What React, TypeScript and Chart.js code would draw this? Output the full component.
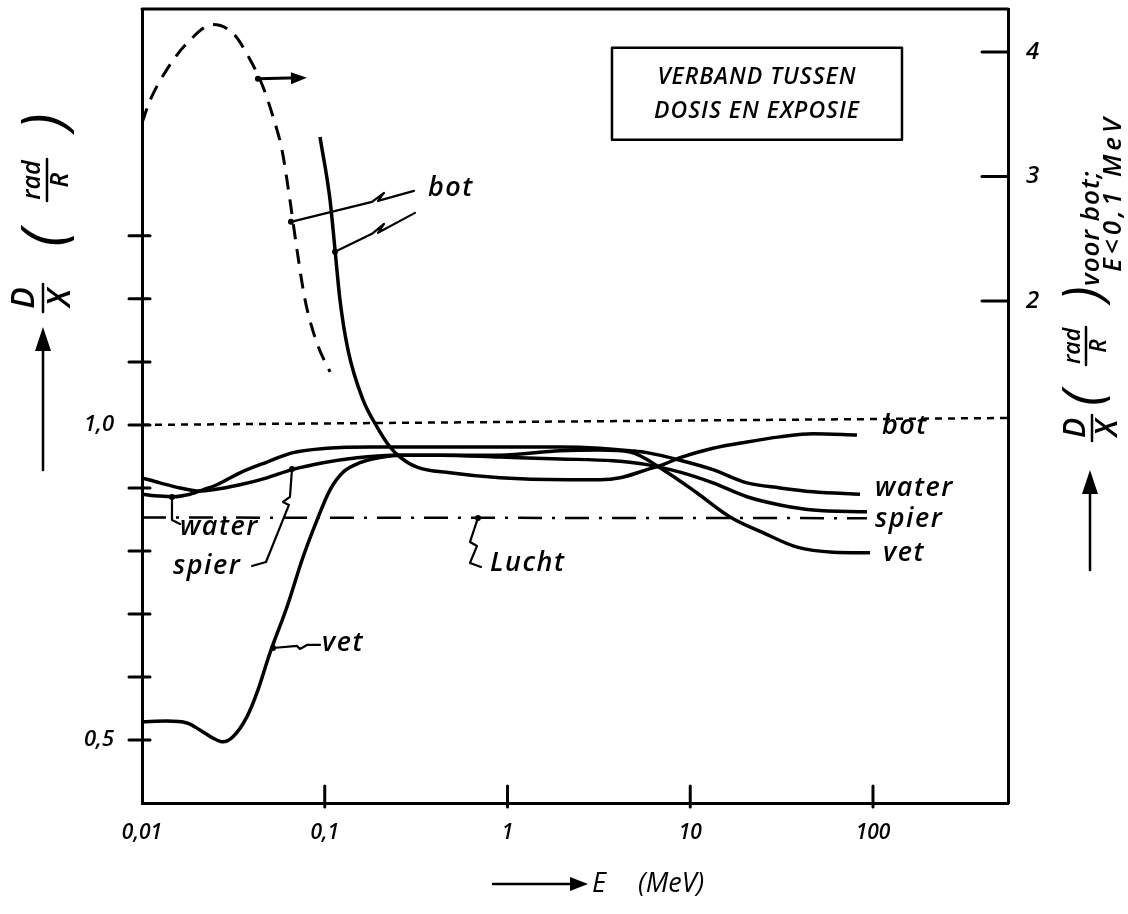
import React, { useEffect, useRef } from 'react';
import { Chart, registerables } from 'chart.js';

Chart.register(...registerables);

// ---- Data (E in MeV, D/X in rad/R) ----
const waterE = [0.01, 0.01254, 0.01479, 0.01832, 0.02158, 0.02572, 0.03436, 0.04828, 0.067, 0.1028, 0.1836, 0.4273, 0.91, 1.937, 3.206, 4.68, 5.79, 8.79, 13.31, 20.45, 30.98, 46.95, 84.9];
const waterV = [0.890, 0.887, 0.886, 0.890, 0.897, 0.905, 0.924, 0.941, 0.956, 0.963, 0.965, 0.965, 0.965, 0.965, 0.963, 0.959, 0.956, 0.944, 0.929, 0.908, 0.900, 0.894, 0.890];

const spierE = [0.01, 0.01254, 0.01615, 0.02075, 0.02447, 0.03436, 0.04828, 0.0662, 0.0978, 0.1501, 0.236, 0.4273, 0.91, 1.937, 3.776, 5.79, 8.79, 13.31, 20.45, 30.98, 46.95, 92.7];
const spierV = [0.916, 0.908, 0.900, 0.895, 0.897, 0.905, 0.916, 0.929, 0.940, 0.948, 0.952, 0.952, 0.949, 0.946, 0.943, 0.937, 0.925, 0.908, 0.886, 0.873, 0.865, 0.862];

const vetE = [0.01, 0.0137, 0.01762, 0.02075, 0.02447, 0.02773, 0.03146, 0.03756, 0.04259, 0.05014, 0.0621, 0.076, 0.0907, 0.1069, 0.1259, 0.156, 0.2084, 0.2582, 0.91, 1.937, 3.206, 4.68, 7.1, 10.89, 16.5, 25.0, 38.4, 60.4, 96.4];
const vetV = [0.529, 0.530, 0.527, 0.516, 0.503, 0.497, 0.505, 0.537, 0.575, 0.638, 0.711, 0.790, 0.849, 0.897, 0.925, 0.940, 0.949, 0.952, 0.952, 0.959, 0.960, 0.957, 0.929, 0.892, 0.854, 0.829, 0.806, 0.798, 0.797];

const botE = [0.0942, 0.1069, 0.1138, 0.1212, 0.134, 0.1618, 0.1931, 0.2276, 0.2582, 0.3198, 0.4845, 0.91, 2.118, 3.206, 4.13, 5.79, 7.1, 8.79, 13.31, 20.45, 30.98, 46.95, 81.7];
const botV = [1.457, 1.357, 1.278, 1.198, 1.119, 1.040, 0.997, 0.965, 0.949, 0.933, 0.924, 0.916, 0.913, 0.913, 0.916, 0.929, 0.937, 0.948, 0.963, 0.973, 0.981, 0.986, 0.984];

// bot for E < 0,1 MeV, read on the right axis
const botLowE = [0.01, 0.01106, 0.0137, 0.01762, 0.02447, 0.03146, 0.03899, 0.04592, 0.0521, 0.0584, 0.0645, 0.0705, 0.078, 0.0907, 0.1069];
const botLowV = [3.43, 3.61, 3.86, 4.07, 4.22, 4.15, 3.94, 3.72, 3.48, 3.21, 2.81, 2.41, 2.01, 1.66, 1.43];

const luchtE = [0.01, 92.7];
const luchtV = [0.853, 0.852];

const refE = [0.01, 548];
const refV = [1.0, 1.011];

// ---- Ticks ----
const xTicks = [0.01, 0.1, 1, 10, 100];
const xTickLabels = ['0,01', '0,1', '1', '10', '100'];
const yTicks = [0.5, 0.6, 0.7, 0.8, 0.9, 1.0, 1.1, 1.2, 1.3];
const yTickLabels = ['0,5', '', '', '', '', '1,0', '', '', ''];
const y2Ticks = [2, 3, 4];
const y2TickLabels = ['2', '3', '4'];

// ---- Annotations (in data units: E, D/X on left axis) ----
const curveLabels = [
  { text: 'bot', e: 0.367, v: 1.376 },
  { text: 'bot', e: 111.9, v: 0.998 },
  { text: 'water', e: 102.6, v: 0.9 },
  { text: 'spier', e: 102.6, v: 0.85 },
  { text: 'vet', e: 113.5, v: 0.797 },
  { text: 'water', e: 0.01615, v: 0.837 },
  { text: 'spier', e: 0.01479, v: 0.775 },
  { text: 'vet', e: 0.0967, v: 0.654 },
  { text: 'Lucht', e: 0.802, v: 0.781 },
];

const leaders = [
  [[0.0653, 1.3222], [0.1814, 1.354], [0.211, 1.3683], [0.1956, 1.3556], [0.3078, 1.3714]],
  [[0.1138, 1.2746], [0.1814, 1.3032], [0.211, 1.319], [0.1956, 1.3048], [0.3117, 1.3365]],
  [[0.01459, 0.8857], [0.01459, 0.8492], [0.01615, 0.8429]],
  [[0.0662, 0.9302], [0.0645, 0.8857], [0.0591, 0.8778], [0.0637, 0.873], [0.0477, 0.7825], [0.04, 0.7762]],
  [[0.0521, 0.646], [0.0705, 0.6492], [0.0732, 0.6444], [0.0799, 0.6508], [0.0942, 0.6508]],
  [[0.6895, 0.8524], [0.6557, 0.8333], [0.6235, 0.8143], [0.6808, 0.8079], [0.6235, 0.781], [0.7161, 0.7746]],
];

const rightArrow = [[0.0431, 1.5492], [0.0799, 1.5508]];

const titleBox = { e1: 3.73, e2: 144.1, v1: 1.5984, v2: 1.4524, ec: 23.19, line1V: 1.5508, line2V: 1.4968 };
const titleLines = ['VERBAND TUSSEN', 'DOSIS EN EXPOSIE'];

const FAM = "'Open Sans', 'DejaVu Sans', sans-serif";
const hand = (size: number, weight = 600) => `italic ${weight} ${size}px ${FAM}`;

function pts(xs: number[], ys: number[]) {
  return xs.map((x, i) => ({ x, y: ys[i] }));
}

function arrowHead(ctx: any, x1: number, y1: number, x2: number, y2: number, len: number, half: number) {
  const ang = Math.atan2(y2 - y1, x2 - x1);
  ctx.beginPath();
  ctx.moveTo(x2, y2);
  ctx.lineTo(x2 - len * Math.cos(ang) + half * Math.sin(ang), y2 - len * Math.sin(ang) - half * Math.cos(ang));
  ctx.lineTo(x2 - len * Math.cos(ang) - half * Math.sin(ang), y2 - len * Math.sin(ang) + half * Math.cos(ang));
  ctx.closePath();
  ctx.fill();
}

function rotText(ctx: any, text: string, x: number, y: number, font: string, align: CanvasTextAlign = 'center', spacing = 0) {
  ctx.save();
  ctx.translate(x, y);
  ctx.rotate(-Math.PI / 2);
  ctx.font = font;
  ctx.letterSpacing = `${spacing}px`;
  ctx.textAlign = align;
  ctx.textBaseline = 'middle';
  ctx.fillText(text, 0, 0);
  ctx.restore();
}

function rotFraction(ctx: any, num: string, den: string, cx: number, cy: number, size: number, barLen: number, gap: number) {
  ctx.save();
  ctx.translate(cx, cy);
  ctx.rotate(-Math.PI / 2);
  ctx.font = hand(size, 600);
  ctx.textAlign = 'center';
  ctx.textBaseline = 'middle';
  ctx.fillText(num, 0, -gap);
  ctx.fillText(den, 0, gap);
  ctx.lineWidth = 2.5;
  ctx.beginPath();
  ctx.moveTo(-barLen / 2, 0);
  ctx.lineTo(barLen / 2, 0);
  ctx.stroke();
  ctx.restore();
}

const noPad = (s: any) => {
  s.paddingTop = 0;
  s.paddingBottom = 0;
  s.paddingLeft = 0;
  s.paddingRight = 0;
};

const overlay = {
  id: 'overlay',
  beforeDraw(chart: any) {
    const ctx = chart.ctx;
    ctx.save();
    ctx.fillStyle = '#fff';
    ctx.fillRect(0, 0, chart.width, chart.height);
    ctx.restore();
  },
  afterDraw(chart: any) {
    const { ctx, chartArea: a, scales } = chart;
    const sx = scales.x, sy = scales.y, sy2 = scales.y2;
    const px = (e: number) => sx.getPixelForValue(e);
    const py = (v: number) => sy.getPixelForValue(v);
    const seg = (x1: number, y1: number, x2: number, y2: number) => {
      ctx.beginPath();
      ctx.moveTo(x1, y1);
      ctx.lineTo(x2, y2);
      ctx.stroke();
    };
    ctx.save();
    ctx.strokeStyle = '#000';
    ctx.fillStyle = '#000';
    ctx.lineCap = 'round';
    ctx.lineJoin = 'round';

    // top border
    ctx.lineWidth = 3;
    seg(a.left, a.top, a.right, a.top);

    // tick marks
    ctx.lineWidth = 3;
    sy.ticks.forEach((t: any) => {
      const y = sy.getPixelForValue(t.value);
      seg(a.left - 13, y, a.left + 8, y);
    });
    sx.ticks.forEach((t: any) => {
      if (t.value <= sx.min * 1.01) return;
      const x = px(t.value);
      seg(x, a.bottom - 17, x, a.bottom + 4);
    });
    sy2.ticks.forEach((t: any) => {
      const y = sy2.getPixelForValue(t.value);
      seg(a.right - 26, y, a.right, y);
    });

    // leaders
    ctx.lineWidth = 2.2;
    leaders.forEach((l) => {
      ctx.beginPath();
      l.forEach((p, i) => {
        const X = px(p[0]);
        const Y = py(p[1]);
        if (i === 0) ctx.moveTo(X, Y);
        else ctx.lineTo(X, Y);
      });
      ctx.stroke();
      ctx.beginPath();
      ctx.arc(px(l[0][0]), py(l[0][1]), 3, 0, Math.PI * 2);
      ctx.fill();
    });

    // arrow pointing to right axis
    {
      const x1 = px(rightArrow[0][0]), y1 = py(rightArrow[0][1]);
      const x2 = px(rightArrow[1][0]), y2 = py(rightArrow[1][1]);
      ctx.lineWidth = 3;
      seg(x1, y1, x2 - 8, y2);
      arrowHead(ctx, x1, y1, x2, y2, 16, 6);
      ctx.beginPath();
      ctx.arc(x1, y1, 3, 0, Math.PI * 2);
      ctx.fill();
    }

    // curve labels
    ctx.font = hand(27, 600);
    ctx.letterSpacing = '1.5px';
    ctx.textAlign = 'left';
    ctx.textBaseline = 'middle';
    curveLabels.forEach((c) => ctx.fillText(c.text, px(c.e), py(c.v)));
    ctx.letterSpacing = '0px';

    // title box
    {
      const x1 = px(titleBox.e1), x2 = px(titleBox.e2);
      const y1 = py(titleBox.v1), y2 = py(titleBox.v2);
      ctx.lineWidth = 2.5;
      ctx.strokeRect(x1, y1, x2 - x1, y2 - y1);
      ctx.font = hand(23, 600);
      ctx.letterSpacing = '1px';
      ctx.textAlign = 'center';
      ctx.textBaseline = 'middle';
      ctx.fillText(titleLines[0], px(titleBox.ec), py(titleBox.line1V));
      ctx.fillText(titleLines[1], px(titleBox.ec), py(titleBox.line2V));
      ctx.letterSpacing = '0px';
    }

    // left axis title
    {
      const ax = a.left - 99;
      ctx.lineWidth = 2.5;
      seg(ax, 470, ax, 345);
      arrowHead(ctx, ax, 470, ax, 327, 24, 8);
      rotFraction(ctx, 'D', 'X', ax, 298, 32, 28, 18);
      rotFraction(ctx, 'rad', 'R', ax + 4, 180, 25, 42, 14);
      rotText(ctx, '(', ax + 4, 238, `italic 400 60px ${FAM}`);
      rotText(ctx, ')', ax + 4, 122, `italic 400 60px ${FAM}`);
    }

    // right axis title
    {
      const ax = a.right + 82;
      ctx.lineWidth = 2.5;
      seg(ax, 570, ax, 488);
      arrowHead(ctx, ax, 570, ax, 470, 24, 8);
      rotFraction(ctx, 'D', 'X', ax + 2, 428, 30, 26, 16);
      rotFraction(ctx, 'rad', 'R', ax - 4, 346, 23, 38, 13);
      rotText(ctx, '(', ax - 4, 398, `italic 400 54px ${FAM}`);
      rotText(ctx, ')', ax - 4, 294, `italic 400 54px ${FAM}`);
      rotText(ctx, 'voor bot;', ax + 2, 286, hand(26, 600), 'left', 1);
      rotText(ctx, 'E<0,1 MeV', ax + 24, 272, hand(26, 600), 'left', 4);
    }

    // x axis title
    {
      const yT = 884;
      ctx.lineWidth = 2.5;
      seg(493, yT, 575, yT);
      arrowHead(ctx, 493, yT, 588, yT, 18, 7);
      ctx.font = hand(27, 500);
      ctx.textAlign = 'left';
      ctx.textBaseline = 'middle';
      ctx.fillText('E', 592, yT);
      ctx.fillText('(MeV)', 638, yT);
    }

    ctx.restore();
  },
};

export default function App() {
  const ref = useRef<HTMLCanvasElement | null>(null);
  useEffect(() => {
    if (!ref.current) return;
    const solid = { borderColor: '#000', borderWidth: 3.5, pointRadius: 0, cubicInterpolationMode: 'monotone' as const, fill: false };
    const chart = new Chart(ref.current, {
      type: 'line',
      data: {
        datasets: [
          { label: 'water', data: pts(waterE, waterV), ...solid, yAxisID: 'y' },
          { label: 'spier', data: pts(spierE, spierV), ...solid, yAxisID: 'y' },
          { label: 'vet', data: pts(vetE, vetV), ...solid, yAxisID: 'y' },
          { label: 'bot', data: pts(botE, botV), ...solid, yAxisID: 'y' },
          { label: 'bot (E<0,1 MeV)', data: pts(botLowE, botLowV), ...solid, borderWidth: 3, borderDash: [15, 10], yAxisID: 'y2' },
          { label: 'lucht', data: pts(luchtE, luchtV), ...solid, borderWidth: 2.5, borderDash: [24, 10, 3, 10], yAxisID: 'y' },
          { label: 'D/X = 1', data: pts(refE, refV), ...solid, borderWidth: 2.5, borderDash: [7, 6], yAxisID: 'y' },
        ],
      },
      options: {
        animation: false,
        responsive: false,
        events: [],
        layout: { autoPadding: false, padding: { top: 9, left: 0, right: 0, bottom: 0 } },
        plugins: { legend: { display: false }, tooltip: { enabled: false } },
        scales: {
          x: {
            type: 'logarithmic',
            min: 0.01,
            max: 548,
            offset: false,
            afterBuildTicks: (s: any) => { s.ticks = xTicks.map((v) => ({ value: v })); },
            afterFit: (s: any) => { s.height = 111; noPad(s); },
            grid: { display: false, drawTicks: false },
            border: { display: true, color: '#000', width: 3 },
            ticks: {
              autoSkip: false,
              maxRotation: 0,
              padding: 17,
              color: '#000',
              font: { family: FAM, size: 21, style: 'italic', weight: '600' },
              callback: (v: any) => { const i = xTicks.indexOf(Number(v)); return i >= 0 ? xTickLabels[i] : ''; },
            },
          },
          y: {
            type: 'linear',
            position: 'left',
            min: 0.4,
            max: 1.66,
            afterBuildTicks: (s: any) => { s.ticks = yTicks.map((v) => ({ value: v })); },
            afterFit: (s: any) => { s.width = 142; noPad(s); },
            grid: { display: false, drawTicks: false },
            border: { display: true, color: '#000', width: 3 },
            ticks: {
              autoSkip: false,
              padding: 28,
              color: '#000',
              font: { family: FAM, size: 22, style: 'italic', weight: '600' },
              callback: (v: any) => { const i = yTicks.findIndex((t) => Math.abs(t - Number(v)) < 1e-6); return i >= 0 ? yTickLabels[i] : ''; },
            },
          },
          y2: {
            type: 'linear',
            position: 'right',
            min: -2.033,
            max: 4.345,
            afterBuildTicks: (s: any) => { s.ticks = y2Ticks.map((v) => ({ value: v })); },
            afterFit: (s: any) => { s.width = 120; noPad(s); },
            grid: { display: false, drawTicks: false },
            border: { display: true, color: '#000', width: 3 },
            ticks: {
              autoSkip: false,
              padding: 18,
              color: '#000',
              font: { family: FAM, size: 24, style: 'italic', weight: '600' },
              callback: (v: any) => { const i = y2Ticks.indexOf(Number(v)); return i >= 0 ? y2TickLabels[i] : ''; },
            },
          },
        },
      },
      plugins: [overlay],
    });
    return () => chart.destroy();
  }, []);

  return (
    <div style={{ position: 'fixed', left: 0, top: 0, width: 1128, height: 914, background: '#fff' }}>
      <canvas ref={ref} width={1128} height={914} style={{ display: 'block', width: 1128, height: 914 }} />
    </div>
  );
}
